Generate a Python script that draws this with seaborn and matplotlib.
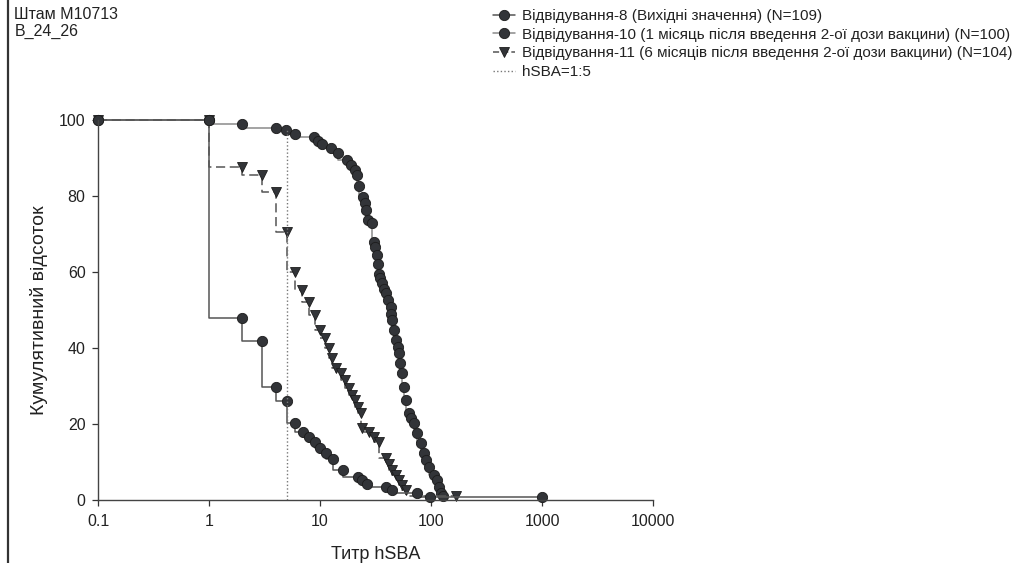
import numpy as np
import pandas as pd
import matplotlib
matplotlib.use("Agg")
import matplotlib.pyplot as plt
from matplotlib.lines import Line2D
import seaborn as sns

# ---- data ----
v8_titer = [0.1, 1, 2, 3, 4, 5, 6, 7, 8, 9, 10, 11.4, 13, 16, 22, 23.7, 26.3, 39.5, 44.7, 74, 97, 1000]
v8_pct = [100, 100, 48, 41.9, 29.8, 26.1, 20.3, 17.8, 16.5, 15.3, 13.6, 12.3, 10.8, 7.9, 6.1, 5.3, 4.2, 3.3, 2.5, 1.8, 0.9, 0.9]

v10_titer = [0.1, 1, 2, 4, 4.9, 6, 8.8, 9.6, 10.5, 12.5, 14.6, 17.6, 18.9, 20.6, 21.7, 22.5, 24.4,
             25.4, 26.1, 27.3, 29.2, 30.6, 31.5, 32.5, 33.2, 34, 35, 36.5, 38, 39, 41, 43.3, 44,
             44.8, 46.4, 48, 50, 51.4, 53, 55, 57, 59, 63, 66, 70, 75, 81, 87, 91, 96, 106, 114,
             118, 122, 128]
v10_pct = [100, 100, 99, 98, 97.3, 96.3, 95.4, 94.4, 93.6, 92.5, 91.4, 89.5, 88.2, 86.8, 85.5, 82.7, 79.8,
           78.1, 76.3, 73.7, 72.8, 68, 66.5, 64.5, 62, 59.6, 58.3, 57, 55.5, 54.4, 52.7, 50.9, 49,
           47.4, 44.7, 42.1, 40.3, 38.6, 36, 33.3, 29.8, 26.3, 22.8, 21.5, 20.2, 17.5, 14.9, 12.3, 10.5, 8.8, 6.6, 5.3,
           3.5, 1.8, 1.0]

v11_titer = [0.1, 1, 2, 3, 4, 5, 6, 6.9, 8, 9.1, 9.9, 11.1, 12, 12.9, 14, 15.3, 16.8, 18.3, 19.5,
             20.6, 22, 23.2, 24, 27.6, 30.5, 34, 39, 41.8, 44.8, 48, 51.4, 55, 59, 167]
v11_pct = [100, 100, 87.5, 85.6, 81.1, 70.4, 60, 55.3, 52.2, 48.7, 44.7, 42.5, 39.9, 37.3, 34.7, 33.3, 31.6, 29.4, 27.6,
           26.3, 24.6, 22.8, 18.9, 18, 16.7, 15.3, 11, 9.6, 7.9, 6.6, 5.3, 3.9, 2.6, 1.0]

threshold = 5
x_ticks = [0.1, 1, 10, 100, 1000, 10000]
x_tick_labels = ["0.1", "1", "10", "100", "1000", "10000"]
y_ticks = [0, 20, 40, 60, 80, 100]

labels = [
    "Відвідування-8 (Вихідні значення) (N=109)",
    "Відвідування-10 (1 місяць після введення 2-ої дози вакцини) (N=100)",
    "Відвідування-11 (6 місяців після введення 2-ої дози вакцини) (N=104)",
    "hSBA=1:5",
]

sns.set_theme(style="ticks")
plt.rcParams["font.family"] = ["Liberation Sans", "DejaVu Sans"]

fig = plt.figure(figsize=(10.21, 5.63), dpi=100)
ax = fig.add_axes([0.096, 0.1119, 0.5436, 0.675])

mface = "#323438"
medge = "#1c1c1c"
ms = 7.4

df8 = pd.DataFrame({"x": v8_titer, "y": v8_pct})
df10 = pd.DataFrame({"x": v10_titer, "y": v10_pct})
df11 = pd.DataFrame({"x": v11_titer, "y": v11_pct})

sns.lineplot(data=df10, x="x", y="y", ax=ax, estimator=None, sort=False,
             drawstyle="steps-pre", color="#8a8a8a", lw=1.1, marker="o", markersize=ms,
             markerfacecolor=mface, markeredgecolor=medge, markeredgewidth=0.6, clip_on=False,
             label=labels[1])
sns.lineplot(data=df11, x="x", y="y", ax=ax, estimator=None, sort=False,
             drawstyle="steps-pre", color="#555555", lw=1.1, linestyle=(0, (6, 3)), marker="v",
             markersize=ms, markerfacecolor=mface, markeredgecolor=medge, markeredgewidth=0.6,
             clip_on=False, label=labels[2])
sns.lineplot(data=df8, x="x", y="y", ax=ax, estimator=None, sort=False,
             drawstyle="steps-pre", color="#555555", lw=1.1, marker="o", markersize=ms,
             markerfacecolor=mface, markeredgecolor=medge, markeredgewidth=0.6, clip_on=False,
             label=labels[0])
ax.axvline(threshold, ymin=0, ymax=0.98, color="#777777", lw=1.0, linestyle=(0, (1, 1.6)))

ax.set_xscale("log")
ax.set_xlim(0.1, 10000)
ax.set_ylim(0, 100)
ax.set_xticks(x_ticks)
ax.set_xticklabels(x_tick_labels)
ax.xaxis.set_minor_locator(matplotlib.ticker.NullLocator())
ax.set_yticks(y_ticks)
ax.tick_params(axis="both", direction="out", length=4, width=0.9, colors="#333333",
               labelsize=11.5, labelcolor="#222222")
ax.tick_params(axis="y", pad=5)
ax.tick_params(axis="x", pad=6)
for s in ["top", "right"]:
    ax.spines[s].set_visible(False)
for s in ["left", "bottom"]:
    ax.spines[s].set_color("#444444")
    ax.spines[s].set_linewidth(1.0)

ax.set_xlabel("Титр hSBA", fontsize=13, color="#222222", labelpad=12)
ax.set_ylabel("Кумулятивний відсоток", fontsize=14, color="#222222", labelpad=8)
if ax.get_legend() is not None:
    ax.get_legend().remove()

handles = [
    Line2D([0], [0], color="#555555", lw=1.1, marker="o", markersize=ms, markerfacecolor=mface,
           markeredgecolor=medge, markeredgewidth=0.6),
    Line2D([0], [0], color="#8a8a8a", lw=1.1, marker="o", markersize=ms, markerfacecolor=mface,
           markeredgecolor=medge, markeredgewidth=0.6),
    Line2D([0], [0], color="#555555", lw=1.1, linestyle=(0, (4, 2)), marker="v", markersize=ms,
           markerfacecolor=mface, markeredgecolor=medge, markeredgewidth=0.6),
    Line2D([0], [0], color="#777777", lw=1.0, linestyle=(0, (1, 1.6))),
]
fig.legend(handles, labels, loc="upper left", bbox_to_anchor=(0.474, 1.0), frameon=False,
           fontsize=11, handlelength=1.45, handletextpad=0.45, labelspacing=0.3,
           borderaxespad=0.2, labelcolor="#222222")

fig.text(0.014, 0.988, "Штам M10713", fontsize=11.5, color="#222222", va="top", ha="left")
fig.text(0.014, 0.957, "B_24_26", fontsize=11.5, color="#222222", va="top", ha="left")
fig.add_artist(Line2D([0.008, 0.008], [0, 1], transform=fig.transFigure, color="#333333", lw=1.6))

fig.savefig("out.png", dpi=100, facecolor="white")
